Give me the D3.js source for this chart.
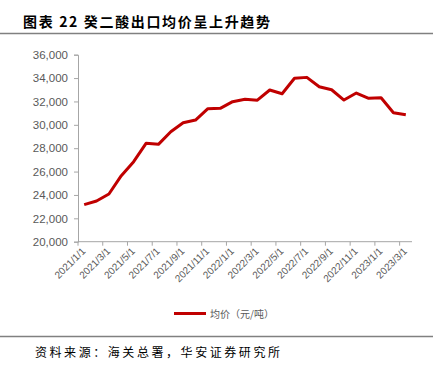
<!DOCTYPE html>
<html><head><meta charset="utf-8">
<script src="https://cdn.jsdelivr.net/npm/d3@7"></script>
<style>body{margin:0;background:#fff}svg{display:block}</style>
</head><body><svg id="c" width="448" height="368"></svg>
<script>
const categories = ["2021/1/1","2021/2/1","2021/3/1","2021/4/1","2021/5/1","2021/6/1","2021/7/1","2021/8/1","2021/9/1","2021/10/1","2021/11/1","2021/12/1","2022/1/1","2022/2/1","2022/3/1","2022/4/1","2022/5/1","2022/6/1","2022/7/1","2022/8/1","2022/9/1","2022/10/1","2022/11/1","2022/12/1","2023/1/1","2023/2/1","2023/3/1"];
const prices = [23170,23480,24080,25650,26850,28420,28330,29410,30180,30410,31380,31410,31980,32180,32110,32980,32660,33980,34060,33260,33000,32120,32720,32270,32320,31040,30860];
const yTicks = [20000,22000,24000,26000,28000,30000,32000,34000,36000];
const titleText = "图表 22 癸二酸出口均价呈上升趋势";
const seriesName = "均价（元/吨）";
const sourceText = "资料来源：海关总署，华安证券研究所";

const svg = d3.select("#c");
const L = 78, R = 412, T = 54.7, B = 241.7;
const x = d3.scaleBand().domain(categories).range([L, R]);
const y = d3.scaleLinear().domain([20000, 36000]).range([B, T]);
const axisColor = "#a6a6a6", textColor = "#595959";

// title
svg.append("text").attr("x", 23).attr("y", 26.5).attr("font-family", "Noto Sans CJK SC").attr("font-weight", "bold")
  .attr("font-size", 14).attr("fill", "#000").attr("textLength", 247).attr("lengthAdjust", "spacing").text(titleText);
svg.append("line").attr("x1", 0).attr("x2", 433).attr("y1", 33.5).attr("y2", 33.5).attr("stroke", "#808080").attr("stroke-width", 1.5);

// y axis
const yAxis = svg.append("g").attr("transform", `translate(${L},0)`)
  .call(d3.axisLeft(y).tickValues(yTicks).tickSize(4).tickPadding(6).tickFormat(d3.format(",")));
yAxis.select(".domain").attr("stroke", axisColor);
yAxis.selectAll(".tick line").attr("stroke", axisColor);
yAxis.selectAll("text").attr("fill", textColor).attr("font-family", "Liberation Sans, Arial").attr("font-size", 11.5);

// x axis
const xg = svg.append("g").attr("transform", `translate(0,${B})`);
xg.append("line").attr("x1", L).attr("x2", R).attr("y1", 0).attr("y2", 0).attr("stroke", axisColor);
const tickCats = categories.filter((d, i) => i % 2 === 0);
xg.selectAll(".xt").data(tickCats).join("line").attr("class", "xt")
  .attr("x1", d => x(d)).attr("x2", d => x(d)).attr("y1", 0).attr("y2", 4).attr("stroke", axisColor);
xg.selectAll(".xl").data(tickCats).join("text").attr("class", "xl")
  .attr("transform", d => `translate(${x(d) + x.bandwidth() / 2 + 2},${10}) rotate(-45)`)
  .attr("text-anchor", "end").attr("fill", textColor).attr("font-family", "Liberation Sans, Arial").attr("font-size", 10)
  .text(d => d);

// line
const line = d3.line().x((d, i) => x(categories[i]) + x.bandwidth() / 2).y(d => y(d));
svg.append("path").datum(prices).attr("d", line).attr("fill", "none").attr("stroke", "#c00000")
  .attr("stroke-width", 3).attr("stroke-linejoin", "round");

// legend
svg.append("line").attr("x1", 174).attr("x2", 206).attr("y1", 313.5).attr("y2", 313.5).attr("stroke", "#c00000").attr("stroke-width", 3);
svg.append("text").attr("x", 210).attr("y", 317.5).attr("font-family", "Noto Sans CJK SC").attr("font-size", 10)
  .attr("fill", textColor).text(seriesName);

// source
svg.append("line").attr("x1", 0).attr("x2", 433).attr("y1", 336.5).attr("y2", 336.5).attr("stroke", "#808080").attr("stroke-width", 1.5);
svg.append("text").attr("x", 35).attr("y", 357).attr("font-family", "Noto Sans CJK SC").attr("font-size", 12)
  .attr("fill", "#000").attr("textLength", 245).attr("lengthAdjust", "spacing").text(sourceText);
</script></body></html>
